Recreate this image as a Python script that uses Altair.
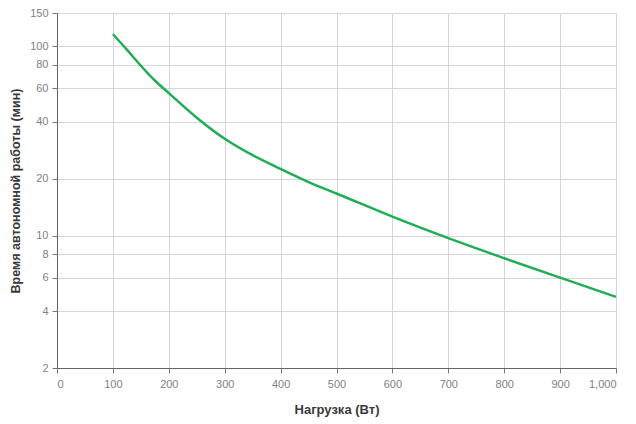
import altair as alt
import pandas as pd

load_w = [100, 125, 150, 175, 200, 250, 300, 350, 400, 450, 500, 600, 700, 800, 900, 1000]
runtime_min = [116, 96, 79, 66, 56.6, 42, 32.5, 26.6, 22.5, 19.2, 16.7, 12.6, 9.7, 7.6, 6.0, 4.75]
y_ticks = [2, 4, 6, 8, 10, 20, 40, 60, 80, 100, 150]
x_ticks = [0, 100, 200, 300, 400, 500, 600, 700, 800, 900, 1000]

df = pd.DataFrame({"load": load_w, "runtime": runtime_min})

FONT = "Liberation Sans"

chart = alt.Chart(df).mark_line(color="#1fae55", strokeWidth=2.5, interpolate="monotone").encode(
    x=alt.X("load:Q",
            scale=alt.Scale(domain=[0, 1000], nice=False),
            axis=alt.Axis(values=x_ticks, format=",.0f", title="Нагрузка (Вт)",
                          labelColor="#808080", labelFontSize=11, labelFont=FONT,
                          titleFont=FONT, titleFontSize=13, titleFontWeight="bold",
                          titleColor="#3a3a3a", titlePadding=14,
                          tickSize=5, tickColor="#777777", domainColor="#666666",
                          gridColor="#d6d6d6", labelPadding=5)),
    y=alt.Y("runtime:Q",
            scale=alt.Scale(type="log", domain=[2, 150], nice=False),
            axis=alt.Axis(values=y_ticks, format="d", title="Время автономной работы (мин)",
                          labelColor="#808080", labelFontSize=11, labelFont=FONT,
                          titleFont=FONT, titleFontSize=12.5, titleFontWeight="bold",
                          titleColor="#3a3a3a", titlePadding=7,
                          tickSize=5, tickColor="#777777", domainColor="#666666",
                          gridColor="#d6d6d6", labelPadding=4)),
).properties(
    width=559, height=355,
    autosize=alt.AutoSizeParams(type="none"),
    padding={"left": 49, "top": 5, "right": 12, "bottom": 56},
).configure_view(stroke="#666666", strokeWidth=1.5).configure(background="white")

chart.save("out.html", embed_options={"renderer": "svg", "actions": False})
